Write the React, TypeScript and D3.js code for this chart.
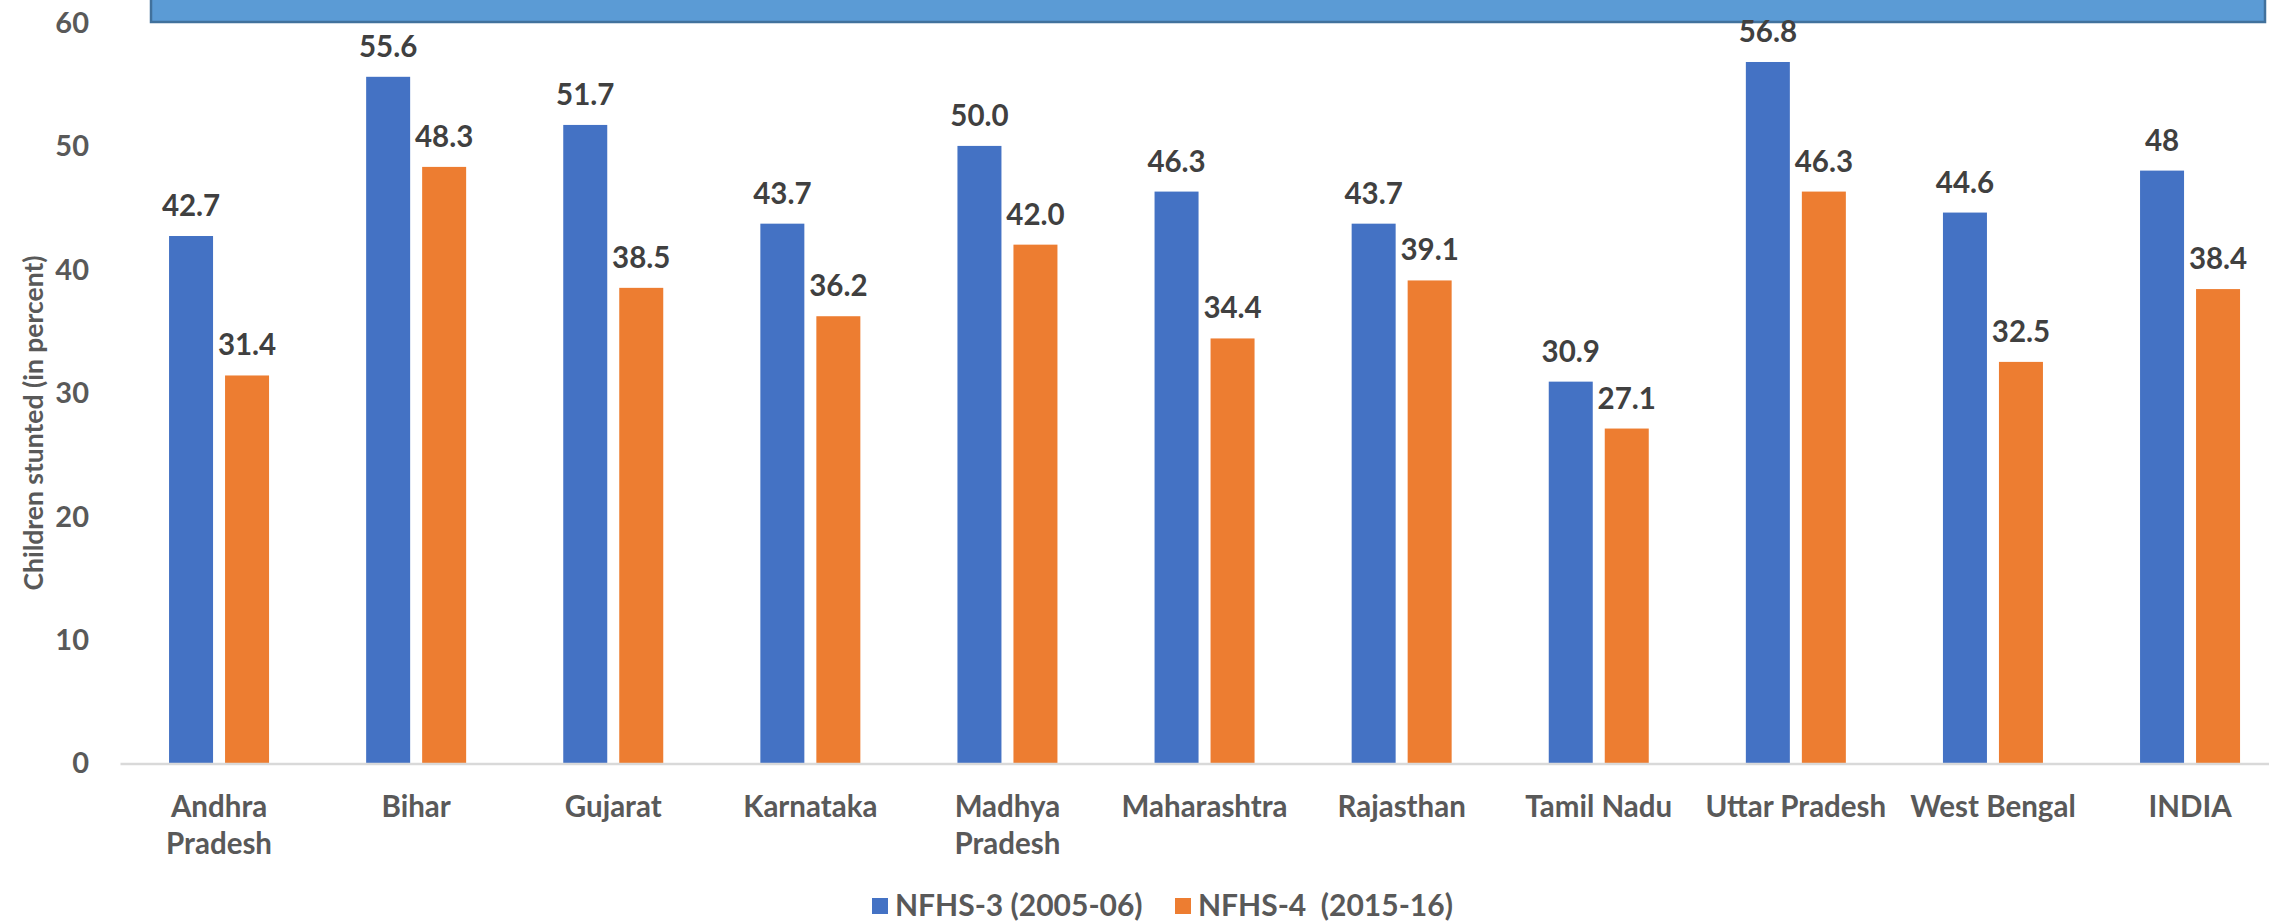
import React from "react";
import * as d3 from "d3";

const categories = [
  "Andhra Pradesh", "Bihar", "Gujarat", "Karnataka", "Madhya Pradesh",
  "Maharashtra", "Rajasthan", "Tamil Nadu", "Uttar Pradesh", "West Bengal", "INDIA",
];
const categoryLines = [
  ["Andhra", "Pradesh"], ["Bihar"], ["Gujarat"], ["Karnataka"], ["Madhya", "Pradesh"],
  ["Maharashtra"], ["Rajasthan"], ["Tamil Nadu"], ["Uttar Pradesh"], ["West Bengal"], ["INDIA"],
];
const seriesNames = ["NFHS-3 (2005-06)", "NFHS-4  (2015-16)"];
const nfhs3 = [42.7, 55.6, 51.7, 43.7, 50.0, 46.3, 43.7, 30.9, 56.8, 44.6, 48];
const nfhs4 = [31.4, 48.3, 38.5, 36.2, 42.0, 34.4, 39.1, 27.1, 46.3, 32.5, 38.4];
const nfhs3Labels = ["42.7", "55.6", "51.7", "43.7", "50.0", "46.3", "43.7", "30.9", "56.8", "44.6", "48"];
const nfhs4Labels = ["31.4", "48.3", "38.5", "36.2", "42.0", "34.4", "39.1", "27.1", "46.3", "32.5", "38.4"];
const yTicks = [0, 10, 20, 30, 40, 50, 60];
const yTitle = "Children stunted (in percent)";

const W = 2269;
const H = 921;
const FONT = "Lato, 'Open Sans', sans-serif";
const colors = ["#4472C4", "#ED7D31"];

export default function App() {
  const y = d3.scaleLinear().domain([0, 60]).range([763, 22.5]);
  const x0 = d3.scaleBand<string>().domain(categories).range([120.5, 120.5 + 11 * 197.1]).padding(0);
  const x1 = d3.scaleBand<string>().domain(seriesNames).range([-50, 50]).paddingInner(12 / 56).paddingOuter(0);
  const seriesVals = [nfhs3, nfhs4];
  const seriesLabels = [nfhs3Labels, nfhs4Labels];

  return (
    <div style={{ position: "absolute", left: 0, top: 0, width: W, height: H, overflow: "hidden", background: "#fff" }}>
      <svg width={W} height={H} style={{ display: "block" }}>
        <rect x={0} y={0} width={W} height={H} fill="#ffffff" />
        {/* top banner */}
        <rect x={151} y={-10} width={2265 - 151} height={32} fill="#5B9BD5" stroke="#41719C" strokeWidth={2.5} />

        {/* y tick labels */}
        {yTicks.map((t) => (
          <text key={t} x={89} y={y(t)} dy="0.36em" textAnchor="end" fontFamily={FONT} fontWeight={700}
            fontSize={29} fill="#595959">{t}</text>
        ))}

        {/* y title */}
        <text transform={`translate(43,423) rotate(-90)`} textAnchor="middle" fontFamily={FONT} fontWeight={700}
          fontSize={26.5} fill="#595959">{yTitle}</text>

        {/* bars */}
        {categories.map((c, i) => {
          const cx = (x0(c) as number) + x0.bandwidth() / 2;
          return (
            <g key={c}>
              {seriesNames.map((s, j) => {
                const v = seriesVals[j][i];
                const bx = cx + (x1(s) as number);
                return (
                  <g key={s}>
                    <rect x={bx} y={y(v)} width={x1.bandwidth()} height={y(0) - y(v)} fill={colors[j]} />
                    <text x={bx + x1.bandwidth() / 2} y={y(v) - 20} textAnchor="middle" fontFamily={FONT}
                      fontWeight={700} fontSize={29.5} fill="#404040">{seriesLabels[j][i]}</text>
                  </g>
                );
              })}
            </g>
          );
        })}

        {/* x axis line */}
        <line x1={120.5} x2={W} y1={y(0) + 1} y2={y(0) + 1} stroke="#D9D9D9" strokeWidth={2.5} />

        {/* x labels */}
        {categories.map((c, i) => {
          const cx = (x0(c) as number) + x0.bandwidth() / 2;
          return (
            <text key={c} x={cx} y={817} textAnchor="middle" fontFamily={FONT} fontWeight={700} fontSize={29.5} fill="#595959">
              {categoryLines[i].map((ln, k) => (
                <tspan key={k} x={cx} dy={k === 0 ? 0 : 37}>{ln}</tspan>
              ))}
            </text>
          );
        })}

        {/* legend */}
        {seriesNames.map((s, j) => {
          const lx = j === 0 ? 872 : 1175;
          return (
            <g key={s}>
              <rect x={lx} y={898} width={16} height={16} fill={colors[j]} />
              <text x={lx + 23} y={916} fontFamily={FONT} fontWeight={700} fontSize={30} fill="#595959"
                style={{ whiteSpace: "pre" }}>{s}</text>
            </g>
          );
        })}
      </svg>
    </div>
  );
}
